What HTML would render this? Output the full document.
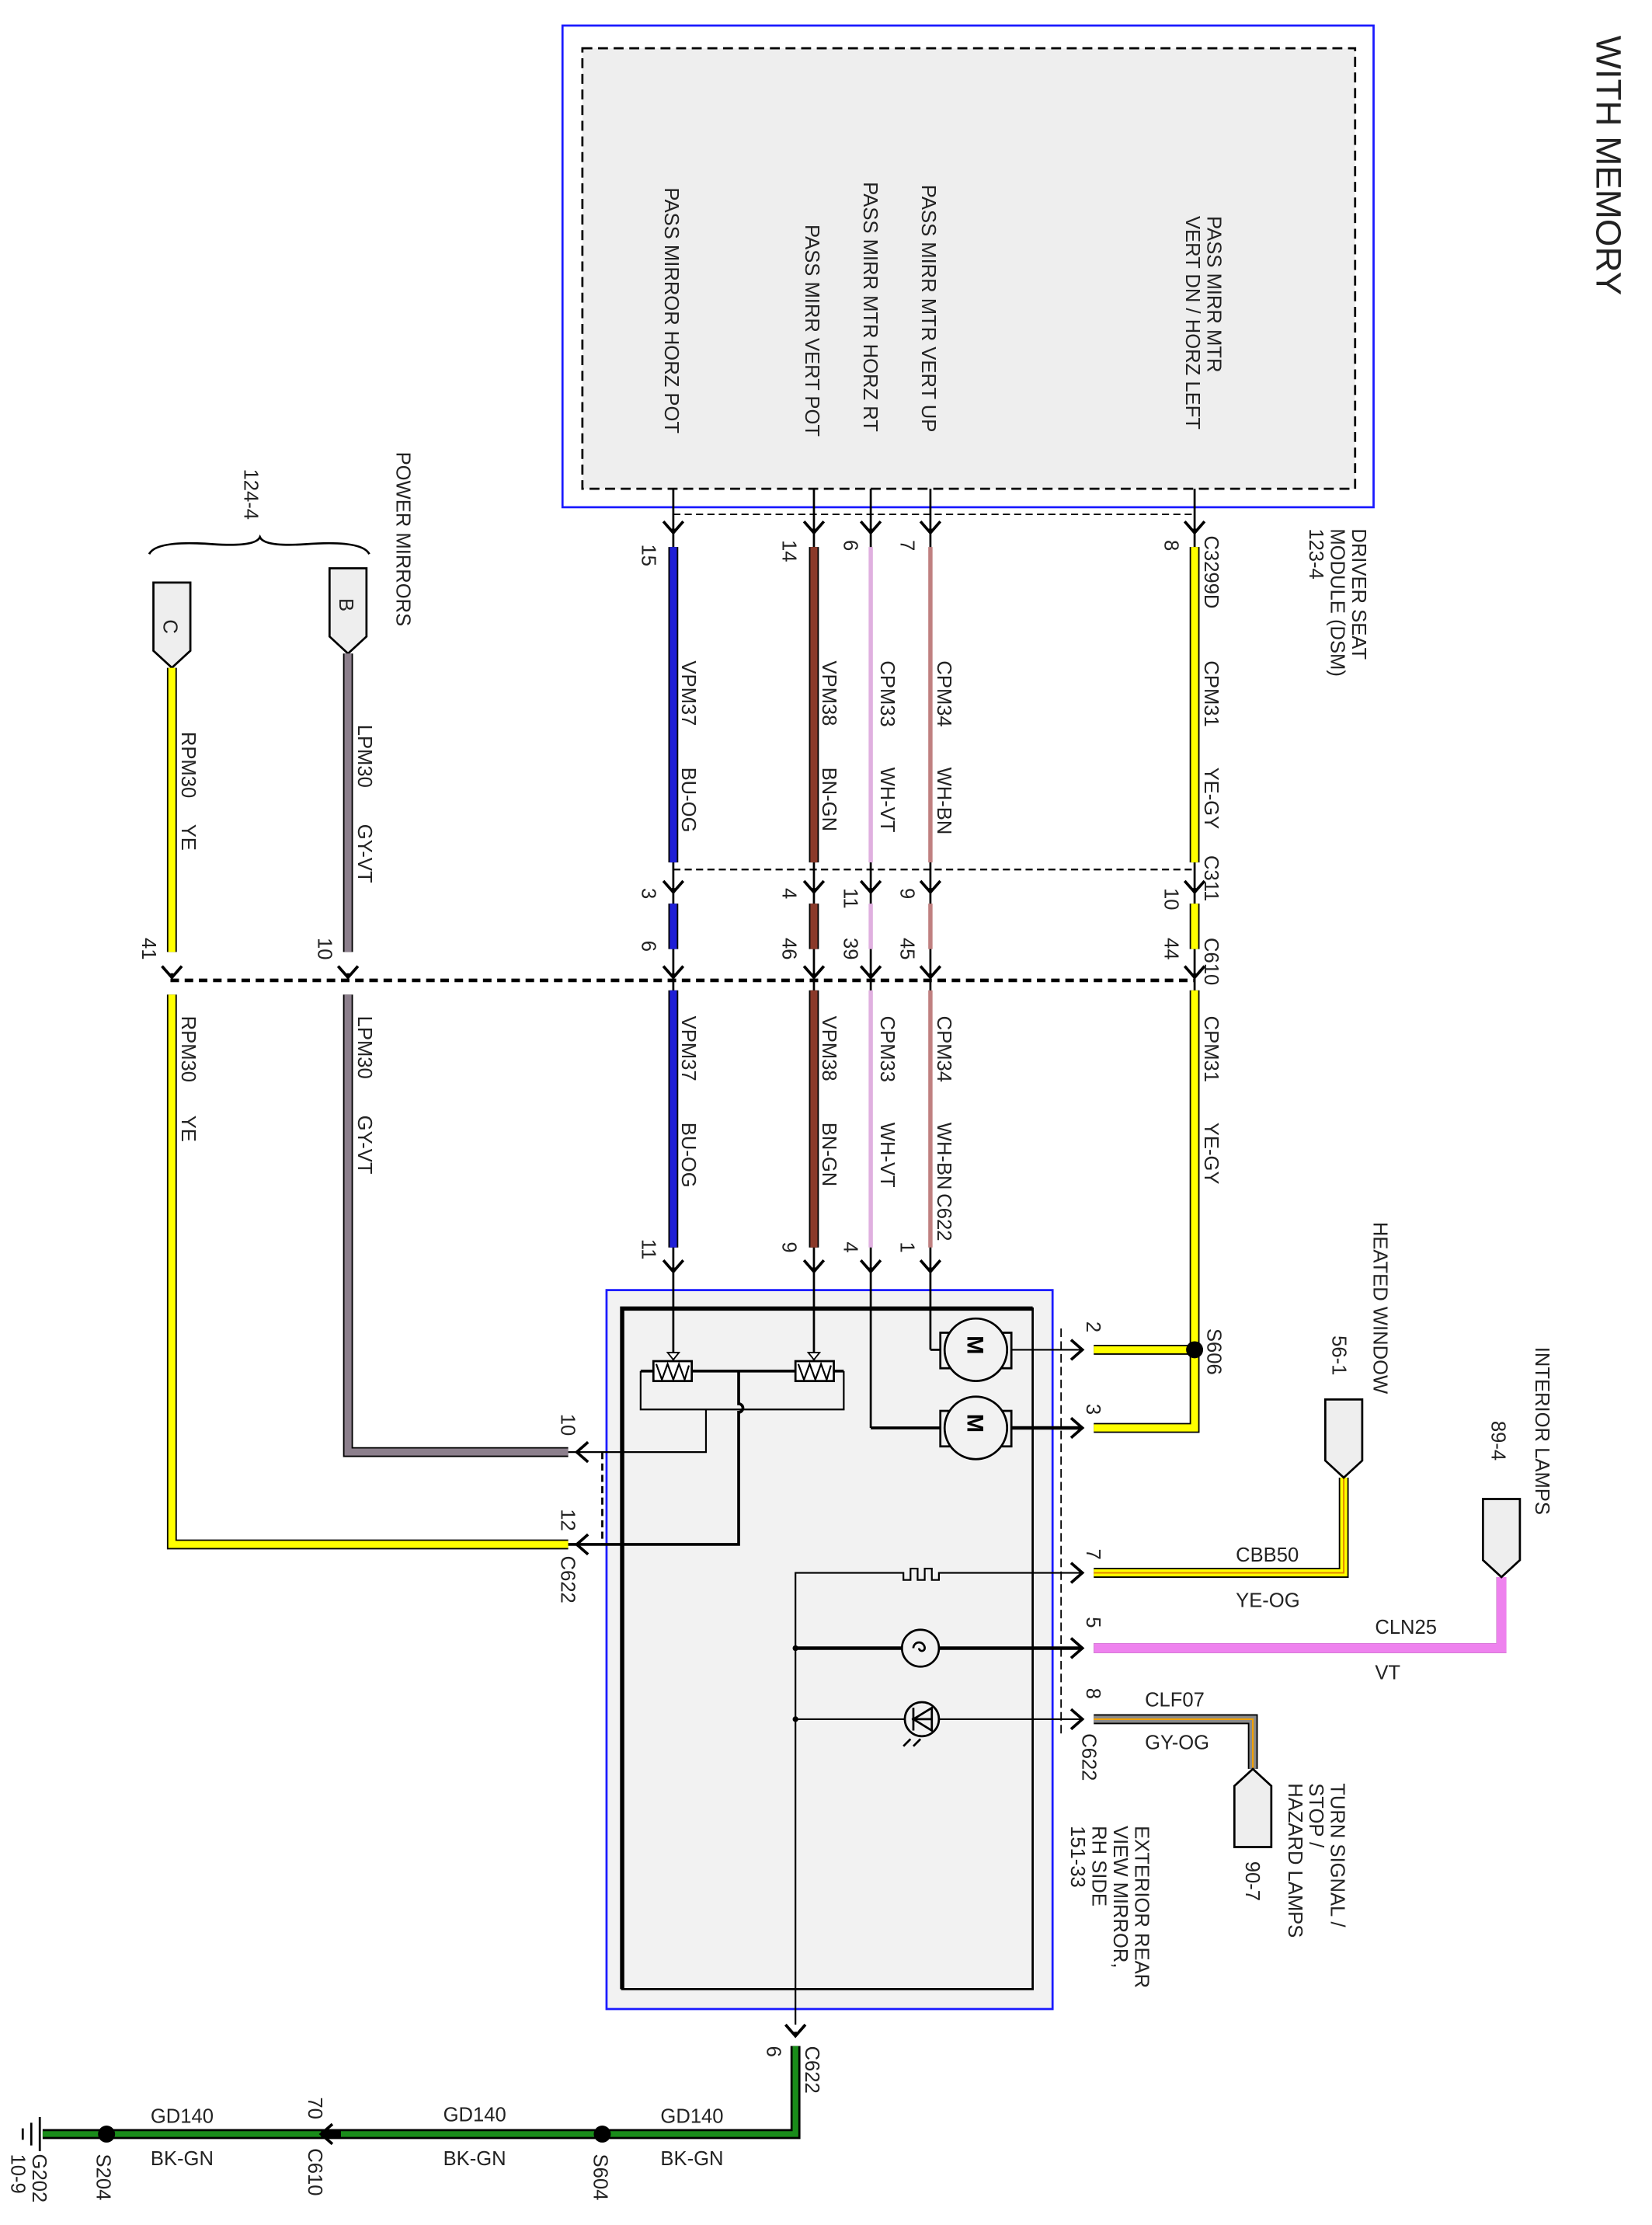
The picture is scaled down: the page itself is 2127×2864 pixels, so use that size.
<!DOCTYPE html>
<html><head><meta charset="utf-8"><style>html,body{margin:0;padding:0;background:#fff}svg{display:block}text{font-family:"Liberation Sans",sans-serif;fill:#222}</style></head><body>
<svg width="2127" height="2864" viewBox="0 0 1163 1566" xmlns="http://www.w3.org/2000/svg">
<defs>
<g id="arr"><path d="M-7,-8 L0,0 L7,-8 M0,0 L0,-3" stroke="#000" stroke-width="2" fill="none"/></g>
<g id="arrR"><path d="M-8,-7 L0,0 L-8,7" stroke="#000" stroke-width="2" fill="none"/></g>
</defs>
<g font-size="14">
<text transform="translate(1124,25) rotate(90)" font-size="25">WITH MEMORY</text>
<!-- DSM -->
<rect x="396" y="18" width="571" height="339" fill="#fff" stroke="#1a1aff" stroke-width="1.5"/>
<rect x="410" y="34" width="544" height="310" fill="#eeeeee" stroke="#000" stroke-width="1.5" stroke-dasharray="7,4"/>
<text transform="translate(468,132) rotate(90)">PASS MIRROR HORZ POT</text>
<text transform="translate(567,158) rotate(90)">PASS MIRR VERT POT</text>
<text transform="translate(608,128) rotate(90)">PASS MIRR MTR HORZ RT</text>
<text transform="translate(649,130) rotate(90)">PASS MIRR MTR VERT UP</text>
<text transform="translate(850,152) rotate(90)">PASS MIRR MTR</text>
<text transform="translate(835,152) rotate(90)">VERT DN / HORZ LEFT</text>
<text transform="translate(952,372) rotate(90)">DRIVER SEAT</text>
<text transform="translate(937,372) rotate(90)">MODULE (DSM)</text>
<text transform="translate(922,372) rotate(90)">123-4</text>
<!-- component box (drawn first) -->
<rect x="427" y="908" width="314" height="506" fill="#f2f2f2" stroke="#1a1aff" stroke-width="1.5"/>
<path d="M438,1400 V921 H727 V1400 Z" fill="none" stroke="#000" stroke-width="1.5"/>
<path d="M438,1400 V921 H727" fill="none" stroke="#000" stroke-width="3"/>
<line x1="747" y1="935" x2="747" y2="1220" stroke="#000" stroke-dasharray="6,3"/>
<line x1="424" y1="1022" x2="424" y2="1087" stroke="#000" stroke-width="1.5" stroke-dasharray="5,3"/>
<!-- connector dashed lines -->
<line x1="474" y1="362" x2="841" y2="362" stroke="#000" stroke-dasharray="5,3"/>
<line x1="474" y1="612" x2="841" y2="612" stroke="#000" stroke-dasharray="5,3" stroke-width="1.2"/>
<line x1="120" y1="690" x2="841" y2="690" stroke="#000" stroke-dasharray="6,4" stroke-width="2.5"/>
<g stroke="#000" stroke-width="1.5">
<line x1="474" y1="344" x2="474" y2="388"/><line x1="573" y1="344" x2="573" y2="388"/><line x1="613" y1="344" x2="613" y2="388"/><line x1="655" y1="344" x2="655" y2="388"/><line x1="841" y1="344" x2="841" y2="388"/>
<line x1="474" y1="600" x2="474" y2="700"/><line x1="573" y1="600" x2="573" y2="700"/><line x1="613" y1="600" x2="613" y2="700"/><line x1="655" y1="600" x2="655" y2="700"/><line x1="841" y1="600" x2="841" y2="700"/>
<line x1="474" y1="870" x2="474" y2="965"/><line x1="573" y1="870" x2="573" y2="965"/><line x1="613" y1="870" x2="613" y2="1005"/><line x1="655" y1="870" x2="655" y2="950"/>
</g>
<g>
<g stroke="#000" stroke-width="7"><line x1="474" y1="385" x2="474" y2="607"/><line x1="573" y1="385" x2="573" y2="607"/><line x1="474" y1="636" x2="474" y2="668"/><line x1="573" y1="636" x2="573" y2="668"/><line x1="474" y1="697" x2="474" y2="878"/><line x1="573" y1="697" x2="573" y2="878"/></g>
<g stroke="#1f1fd6" stroke-width="5"><line x1="474" y1="385" x2="474" y2="607"/><line x1="474" y1="636" x2="474" y2="668"/><line x1="474" y1="697" x2="474" y2="878"/></g>
<g stroke="#8b3a2a" stroke-width="5"><line x1="573" y1="385" x2="573" y2="607"/><line x1="573" y1="636" x2="573" y2="668"/><line x1="573" y1="697" x2="573" y2="878"/></g>
<g stroke="#e0b0e0" stroke-width="3"><line x1="613" y1="385" x2="613" y2="607"/><line x1="613" y1="636" x2="613" y2="668"/><line x1="613" y1="697" x2="613" y2="878"/></g>
<g stroke="#c08080" stroke-width="3"><line x1="655" y1="385" x2="655" y2="607"/><line x1="655" y1="636" x2="655" y2="668"/><line x1="655" y1="697" x2="655" y2="878"/></g>
<g stroke="#000" stroke-width="7" fill="none"><line x1="841" y1="385" x2="841" y2="607"/><line x1="841" y1="636" x2="841" y2="668"/><path d="M841,697 V1005 H770 M841,950 H770"/></g>
<g stroke="#ffff00" stroke-width="5" fill="none"><line x1="841" y1="385" x2="841" y2="607"/><line x1="841" y1="636" x2="841" y2="668"/><path d="M841,697 V1005 H770 M841,950 H770"/></g>
</g>
<g>
<use href="#arr" x="474" y="375"/><use href="#arr" x="573" y="375"/><use href="#arr" x="613" y="375"/><use href="#arr" x="655" y="375"/><use href="#arr" x="841" y="375"/>
<use href="#arr" x="474" y="628"/><use href="#arr" x="573" y="628"/><use href="#arr" x="613" y="628"/><use href="#arr" x="655" y="628"/><use href="#arr" x="841" y="628"/>
<use href="#arr" x="474" y="688"/><use href="#arr" x="573" y="688"/><use href="#arr" x="613" y="688"/><use href="#arr" x="655" y="688"/><use href="#arr" x="841" y="688"/>
<use href="#arr" x="121" y="688"/><use href="#arr" x="245" y="688"/>
<use href="#arr" x="474" y="895"/><use href="#arr" x="573" y="895"/><use href="#arr" x="613" y="895"/><use href="#arr" x="655" y="895"/>
</g>
<text transform="translate(452,383) rotate(90)">15</text><text transform="translate(551,380) rotate(90)">14</text><text transform="translate(594,380) rotate(90)">6</text><text transform="translate(634,380) rotate(90)">7</text><text transform="translate(820,380) rotate(90)">8</text>
<text transform="translate(848,377) rotate(90)">C3299D</text>
<text transform="translate(452,625) rotate(90)">3</text><text transform="translate(551,625) rotate(90)">4</text><text transform="translate(594,625) rotate(90)">11</text><text transform="translate(634,625) rotate(90)">9</text><text transform="translate(820,625) rotate(90)">10</text>
<text transform="translate(848,602) rotate(90)">C311</text>
<text transform="translate(452,662) rotate(90)">6</text><text transform="translate(551,660) rotate(90)">46</text><text transform="translate(594,660) rotate(90)">39</text><text transform="translate(634,660) rotate(90)">45</text><text transform="translate(820,660) rotate(90)">44</text>
<text transform="translate(848,660) rotate(90)">C610</text>
<text transform="translate(100,660) rotate(90)">41</text><text transform="translate(224,660) rotate(90)">10</text>
<text transform="translate(452,872) rotate(90)">11</text><text transform="translate(551,874) rotate(90)">9</text><text transform="translate(594,874) rotate(90)">4</text><text transform="translate(634,874) rotate(90)">1</text>
<text transform="translate(660,840) rotate(90)">C622</text>
<text transform="translate(480,465) rotate(90)">VPM37</text><text transform="translate(480,540) rotate(90)">BU-OG</text>
<text transform="translate(579,465) rotate(90)">VPM38</text><text transform="translate(579,540) rotate(90)">BN-GN</text>
<text transform="translate(620,465) rotate(90)">CPM33</text><text transform="translate(620,540) rotate(90)">WH-VT</text>
<text transform="translate(660,465) rotate(90)">CPM34</text><text transform="translate(660,540) rotate(90)">WH-BN</text>
<text transform="translate(848,465) rotate(90)">CPM31</text><text transform="translate(848,540) rotate(90)">YE-GY</text>
<text transform="translate(480,715) rotate(90)">VPM37</text><text transform="translate(480,790) rotate(90)">BU-OG</text>
<text transform="translate(579,715) rotate(90)">VPM38</text><text transform="translate(579,790) rotate(90)">BN-GN</text>
<text transform="translate(620,715) rotate(90)">CPM33</text><text transform="translate(620,790) rotate(90)">WH-VT</text>
<text transform="translate(660,715) rotate(90)">CPM34</text><text transform="translate(660,790) rotate(90)">WH-BN</text>
<text transform="translate(848,715) rotate(90)">CPM31</text><text transform="translate(848,790) rotate(90)">YE-GY</text>
<!-- left power mirrors -->
<text transform="translate(279,318) rotate(90)">POWER MIRRORS</text>
<text transform="translate(172,330) rotate(90)">124-4</text>
<path d="M105,390 Q110,380 150,383 Q180,385 183,378 Q186,385 215,383 Q255,380 260,390" stroke="#000" fill="none" stroke-width="1.5"/>
<path d="M108,410 L134,410 L134,458 L121,470 L108,458 Z" fill="#eee" stroke="#000" stroke-width="1.5"/>
<text transform="translate(115,436) rotate(90)">C</text>
<path d="M232,400 L258,400 L258,448 L245,460 L232,448 Z" fill="#eee" stroke="#000" stroke-width="1.5"/>
<text transform="translate(239,421) rotate(90)">B</text>
<g stroke="#000" stroke-width="7" fill="none"><path d="M121,470 V670"/><path d="M245,460 V670"/><path d="M121,700 V1087 H400"/><path d="M245,700 V1022 H400"/></g>
<g stroke="#ffff00" stroke-width="5" fill="none"><path d="M121,470 V670"/><path d="M121,700 V1087 H400"/></g>
<g stroke="#8c7f8c" stroke-width="5" fill="none"><path d="M245,460 V670"/><path d="M245,700 V1022 H400"/></g>
<text transform="translate(128,515) rotate(90)">RPM30</text><text transform="translate(128,580) rotate(90)">YE</text>
<text transform="translate(252,510) rotate(90)">LPM30</text><text transform="translate(252,580) rotate(90)">GY-VT</text>
<text transform="translate(128,715) rotate(90)">RPM30</text><text transform="translate(128,785) rotate(90)">YE</text>
<text transform="translate(252,715) rotate(90)">LPM30</text><text transform="translate(252,785) rotate(90)">GY-VT</text>
<!-- internals -->
<g stroke="#000" fill="none">
<rect x="460" y="958" width="27" height="14" fill="#fff" stroke-width="1.5"/>
<path d="M462,960 l4,11 l4,-11 l4,11 l4,-11 l4,11 l3,-10" stroke-width="1.2"/>
<rect x="560" y="958" width="27" height="14" fill="#fff" stroke-width="1.5"/>
<path d="M562,960 l4,11 l4,-11 l4,11 l4,-11 l4,11 l3,-10" stroke-width="1.2"/>
<path d="M451,965 H460 M487,965 H560 M587,965 H594" stroke-width="2"/>
<path d="M451,965 V992 H594 V965" stroke-width="1.2"/>
<path d="M470,952 L478,952 L474,957 Z M569,952 L577,952 L573,957 Z" fill="#fff"/>
<path d="M497,992 V1022 H400" stroke-width="1.2"/>
<path d="M520,965 V988 a3,3 0 0 1 0,6 V1087 H400" stroke-width="2"/>
<path d="M655,950 H662" stroke-width="1.5"/>
<rect x="662" y="938" width="50" height="25" fill="#f2f2f2" stroke-width="1.5"/>
<circle cx="687" cy="950" r="22" fill="#f2f2f2" stroke-width="1.5"/>
<path d="M712,950 H762" stroke-width="1.2"/>
<path d="M613,1005 H662" stroke-width="2"/>
<rect x="662" y="993" width="50" height="25" fill="#f2f2f2" stroke-width="1.5"/>
<circle cx="687" cy="1005" r="22" fill="#f2f2f2" stroke-width="1.5"/>
<path d="M712,1005 H762" stroke-width="2.5"/>
<path d="M560,1425 V1107 H636 V1112 H641 V1104 H646 V1112 H651 V1104 H656 V1112 H661 V1107 H762" stroke-width="1.2"/>
<path d="M560,1160 H762" stroke-width="2.5"/>
<circle cx="648" cy="1160" r="13" fill="#f2f2f2" stroke-width="1.5"/>
<path d="M643,1160 a4,4 0 0 1 8,0 a2,2 0 0 1 -4,0" stroke-width="1.5"/>
<path d="M560,1210 H762" stroke-width="1.2"/>
<circle cx="649" cy="1210" r="12" fill="#f2f2f2" stroke-width="1.5"/>
<path d="M642,1210 H656 M643,1202 V1218 M643,1210 L656,1202 V1218 Z" stroke-width="1.5"/>
<path d="M641,1224 l-5,5 M648,1224 l-5,5" stroke-width="1.5"/>
</g>
<g fill="#000" stroke="none">
<text transform="translate(681,940) rotate(90)" font-size="16" font-weight="bold" style="fill:#000">M</text>
<text transform="translate(681,995) rotate(90)" font-size="16" font-weight="bold" style="fill:#000">M</text>
<circle cx="560" cy="1160" r="2"/><circle cx="560" cy="1210" r="2"/>
<circle cx="841" cy="950" r="6"/>
</g>
<use href="#arrR" x="762" y="950"/><use href="#arrR" x="762" y="1005"/><use href="#arrR" x="762" y="1107"/><use href="#arrR" x="762" y="1160"/><use href="#arrR" x="762" y="1210"/>
<use href="#arrR" x="406" y="1022" transform="rotate(180,406,1022)"/><use href="#arrR" x="406" y="1087" transform="rotate(180,406,1087)"/>
<text transform="translate(765,930) rotate(90)">2</text><text transform="translate(765,988) rotate(90)">3</text><text transform="translate(765,1090) rotate(90)">7</text><text transform="translate(765,1138) rotate(90)">5</text><text transform="translate(765,1188) rotate(90)">8</text>
<text transform="translate(762,1220) rotate(90)">C622</text>
<text transform="translate(395,995) rotate(90)">10</text><text transform="translate(395,1062) rotate(90)">12</text><text transform="translate(395,1095) rotate(90)">C622</text>
<text transform="translate(850,935) rotate(90)">S606</text>
<!-- right side wires -->
<g stroke="#000" stroke-width="7" fill="none"><path d="M770,1107 H946 V1040"/><path d="M770,1160 H1057 V1110"/><path d="M770,1210 H882 V1245"/></g>
<path d="M770,1107 H946 V1040" stroke="#ffff00" stroke-width="5" fill="none"/>
<path d="M770,1107 H946 V1040" stroke="#e08000" stroke-width="1" fill="none"/>
<path d="M770,1160 H1057 V1110" stroke="#ee82ee" stroke-width="7" fill="none"/>
<path d="M770,1210 H882 V1245" stroke="#8a8a8a" stroke-width="5" fill="none"/>
<path d="M770,1210 H882 V1245" stroke="#f0a000" stroke-width="1.2" fill="none"/>
<path d="M933,985 H959 V1028 L946,1040 L933,1028 Z" fill="#eee" stroke="#000" stroke-width="1.5"/>
<path d="M1044,1055 H1070 V1098 L1057,1110 L1044,1098 Z" fill="#eee" stroke="#000" stroke-width="1.5"/>
<path d="M869,1300 H895 V1257 L882,1245 L869,1257 Z" fill="#eee" stroke="#000" stroke-width="1.5"/>
<text x="870" y="1099">CBB50</text><text x="870" y="1131">YE-OG</text>
<text x="968" y="1150">CLN25</text><text x="968" y="1182">VT</text>
<text x="806" y="1201">CLF07</text><text x="806" y="1231">GY-OG</text>
<text transform="translate(967,860) rotate(90)">HEATED WINDOW</text>
<text transform="translate(938,940) rotate(90)">56-1</text>
<text transform="translate(1081,948) rotate(90)">INTERIOR LAMPS</text>
<text transform="translate(1050,1000) rotate(90)">89-4</text>
<text transform="translate(937,1255) rotate(90)">TURN SIGNAL /</text>
<text transform="translate(922,1255) rotate(90)">STOP /</text>
<text transform="translate(907,1255) rotate(90)">HAZARD LAMPS</text>
<text transform="translate(877,1310) rotate(90)">90-7</text>
<text transform="translate(799,1285) rotate(90)">EXTERIOR REAR</text>
<text transform="translate(784,1285) rotate(90)">VIEW MIRROR,</text>
<text transform="translate(769,1285) rotate(90)">RH SIDE</text>
<text transform="translate(754,1285) rotate(90)">151-33</text>
<!-- ground -->
<use href="#arr" x="560" y="1433"/>
<g stroke="#000" stroke-width="7" fill="none"><path d="M560,1440 V1502 H30"/></g>
<g stroke="#1a8c1a" stroke-width="4" fill="none"><path d="M560,1440 V1502 H240 M226,1502 H30"/></g>
<use href="#arrR" x="226" y="1502" transform="rotate(180,226,1502)"/>
<circle cx="424" cy="1502" r="6" fill="#000"/><circle cx="75" cy="1502" r="6" fill="#000"/>
<path d="M28,1490 V1514 M22,1494 V1510 M16,1498 V1506" stroke="#000" stroke-width="1.5"/>
<text transform="translate(567,1440) rotate(90)">C622</text><text transform="translate(540,1440) rotate(90)">6</text>
<text x="465" y="1494">GD140</text><text x="465" y="1524">BK-GN</text>
<text x="312" y="1493">GD140</text><text x="312" y="1524">BK-GN</text>
<text x="106" y="1494">GD140</text><text x="106" y="1524">BK-GN</text>
<text transform="translate(217,1476) rotate(90)">70</text>
<text transform="translate(217,1512) rotate(90)">C610</text>
<text transform="translate(418,1516) rotate(90)">S604</text>
<text transform="translate(68,1516) rotate(90)">S204</text>
<text transform="translate(23,1516) rotate(90)">G202</text>
<text transform="translate(8,1516) rotate(90)">10-9</text>
</g>
</svg>
</body></html>
